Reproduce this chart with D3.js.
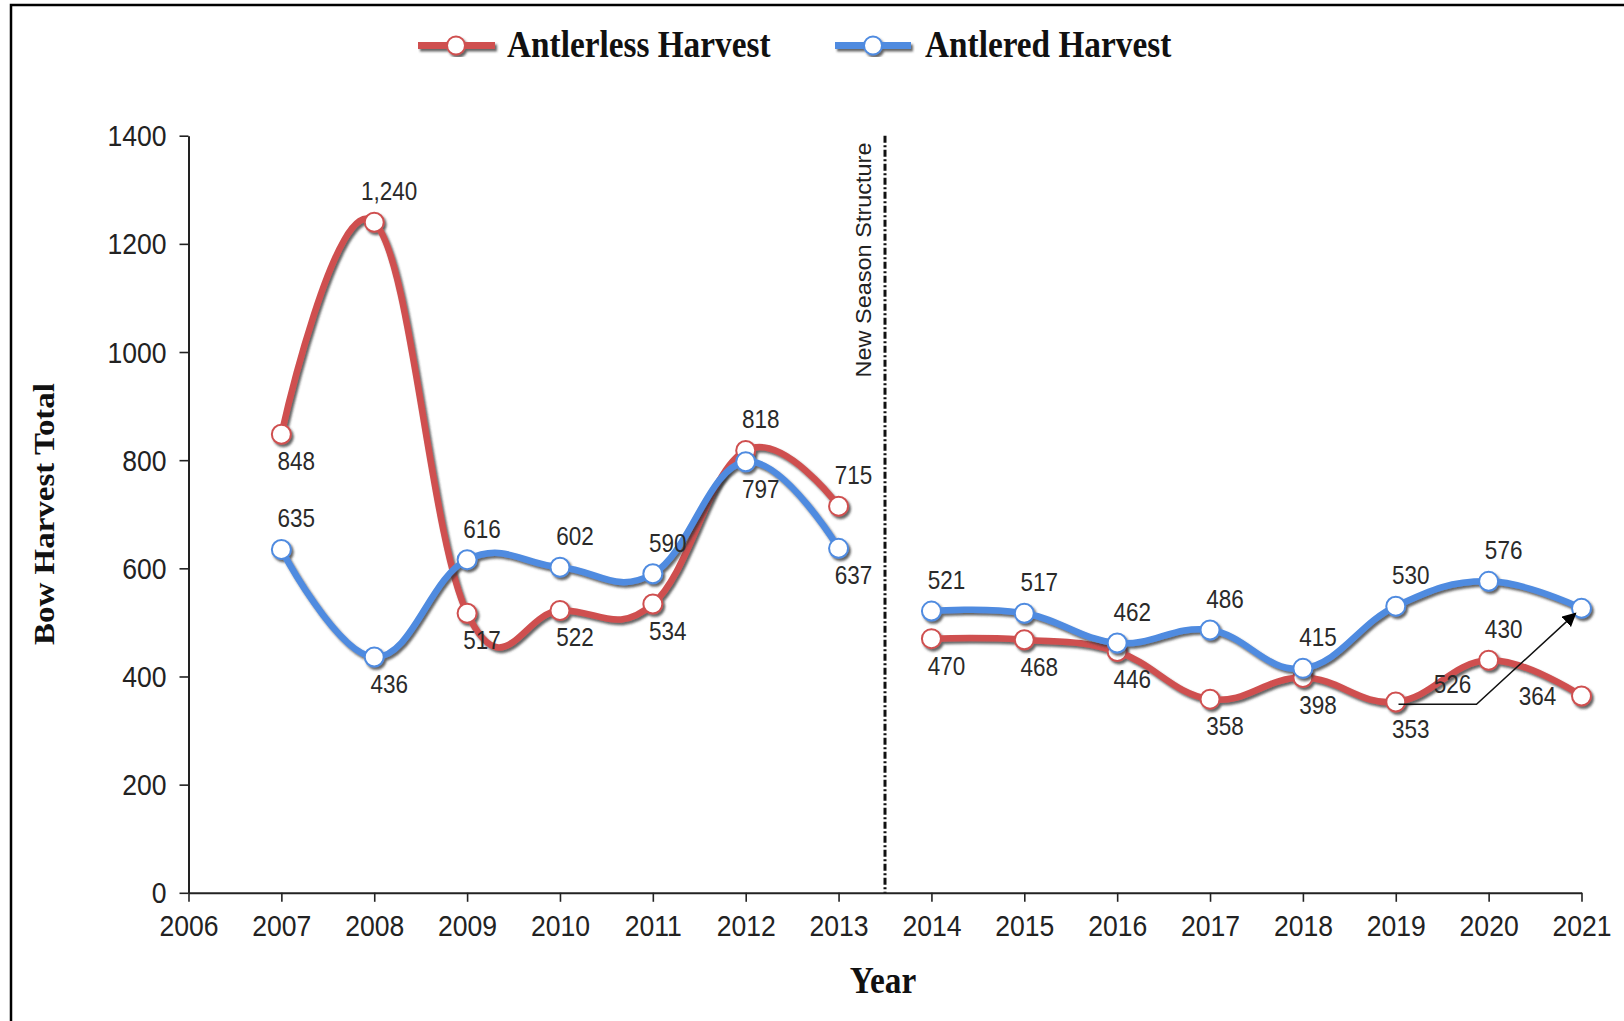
<!DOCTYPE html>
<html>
<head>
<meta charset="utf-8">
<script src="https://cdn.jsdelivr.net/npm/d3@7"></script>
<style>
  html, body { margin: 0; padding: 0; background: #fff; }
  svg { display: block; }
</style>
</head>
<body>
<svg id="chart" width="1624" height="1021"></svg>
<script>
// ---------- data ----------
const years = [2007, 2008, 2009, 2010, 2011, 2012, 2013, 2014, 2015, 2016, 2017, 2018, 2019, 2020, 2021];
const antlerless = [848, 1240, 517, 522, 534, 818, 715, 470, 468, 446, 358, 398, 353, 430, 364];
const antlered   = [635, 436, 616, 602, 590, 797, 637, 521, 517, 462, 486, 415, 530, 576, 526];
const antlerlessLabelPos = ["below","above","below","below","below","above","above","below","below","below","below","below","below","above","left"];
const antleredLabelPos   = ["above","below","above","above","above","below","below","above","above","above","above","above","above","above","callout"];
const xTicks = [2006, 2007, 2008, 2009, 2010, 2011, 2012, 2013, 2014, 2015, 2016, 2017, 2018, 2019, 2020, 2021];
const yTicks = [0, 200, 400, 600, 800, 1000, 1200, 1400];
const seasonBreak = 2013.5;
const seriesNames = ["Antlerless Harvest", "Antlered Harvest"];
const breakLabel = "New Season Structure";
const xTitle = "Year";
const yTitle = "Bow Harvest Total";

// ---------- setup ----------
const SX = 0.9; // horizontal squeeze of the original typography
const svg = d3.select("#chart");
const colors = { red: "#cf5050", blue: "#4f8be0" };

const x = d3.scaleLinear().domain([2006, 2021]).range([188.5, 1581.5]);
const y = d3.scaleLinear().domain([0, 1400]).range([892.8, 135.7]);

const defs = svg.append("defs");
const f = defs.append("filter").attr("id", "shadow").attr("x", "-10%").attr("y", "-10%").attr("width", "120%").attr("height", "120%");
f.append("feDropShadow").attr("dx", 2).attr("dy", 2.5).attr("stdDeviation", 1.2)
  .attr("flood-color", "#333").attr("flood-opacity", 0.75);
defs.append("marker").attr("id", "arrow").attr("viewBox", "0 0 10 10")
  .attr("refX", 9).attr("refY", 5).attr("markerWidth", 14).attr("markerHeight", 14)
  .attr("markerUnits", "userSpaceOnUse").attr("orient", "auto")
  .append("path").attr("d", "M0,0 L10,5 L0,10 z").attr("fill", "#000");

function label(g, px, py, str, o) {
  o = o || {};
  const t = g.append("text")
    .attr("transform", `translate(${px},${py}) scale(${SX},1)` + (o.rotate ? ` rotate(${o.rotate})` : ""))
    .attr("text-anchor", o.anchor || "middle")
    .attr("dominant-baseline", o.baseline || "auto")
    .attr("font-family", o.family || "'Liberation Sans', Arial, sans-serif")
    .attr("font-size", o.size || 25)
    .attr("font-weight", o.weight || "normal")
    .attr("fill", o.fill || "#2a2a2a")
    .text(str);
  return t;
}

// frame (top + left edges)
svg.append("path").attr("d", "M11,1021 L11,5 L1624,5").attr("fill", "none")
  .attr("stroke", "#000").attr("stroke-width", 2.5);

// ---------- axes ----------
const xAxis = svg.append("g").attr("transform", `translate(0,${y(0)})`)
  .call(d3.axisBottom(x).tickValues(xTicks).tickFormat(d3.format("d")).tickSize(9).tickSizeOuter(0));
const yAxis = svg.append("g").attr("transform", `translate(${x(2006)},0)`)
  .call(d3.axisLeft(y).tickValues(yTicks).tickFormat(d3.format("d")).tickSize(9).tickSizeOuter(0));
[xAxis, yAxis].forEach(a => {
  a.select(".domain").attr("stroke", "#222").attr("stroke-width", 2);
  a.selectAll(".tick line").attr("stroke", "#222").attr("stroke-width", 1.6);
  a.selectAll(".tick text").attr("font-family", "'Liberation Sans', Arial, sans-serif")
    .attr("font-size", 29.5).attr("fill", "#222");
});
xAxis.selectAll(".tick text").attr("y", 0).attr("dy", 0)
  .attr("transform", `translate(0,43) scale(${SX},1)`);
yAxis.selectAll(".tick text").attr("x", 0).attr("dy", 0).attr("dominant-baseline", "central")
  .attr("transform", `translate(-22,0) scale(${SX},1)`);

// ---------- season break ----------
svg.append("line").attr("x1", x(seasonBreak)).attr("x2", x(seasonBreak))
  .attr("y1", y(1400)).attr("y2", y(0))
  .attr("stroke", "#111").attr("stroke-width", 3).attr("stroke-dasharray", "7,2.5,2,2.5");
label(svg, x(seasonBreak) - 21, 260, breakLabel, { rotate: -90, baseline: "central", size: 23.5, fill: "#222" });

// ---------- series ----------
const curve = d3.curveCardinal.tension(-0.2);
const line = d3.line().x(d => x(d.year)).y(d => y(d.v)).curve(curve);

function drawSeries(values, color) {
  const pts = years.map((yr, i) => ({ year: yr, v: values[i], i }));
  const segs = [pts.filter(p => p.year < seasonBreak), pts.filter(p => p.year > seasonBreak)];
  const g = svg.append("g").attr("filter", "url(#shadow)");
  segs.forEach(s => g.append("path").attr("d", line(s)).attr("fill", "none")
    .attr("stroke", color).attr("stroke-width", 6.5).attr("stroke-linejoin", "round").attr("stroke-linecap", "round"));
  g.selectAll("circle.m").data(pts).enter().append("circle").attr("class", "m")
    .attr("cx", d => x(d.year)).attr("cy", d => y(d.v)).attr("r", 9.5)
    .attr("fill", "#fff").attr("stroke", color).attr("stroke-width", 2);
  return pts;
}
const redPts = drawSeries(antlerless, colors.red);
const bluePts = drawSeries(antlered, colors.blue);

// ---------- value labels ----------
const fmt = d3.format(",");
const labelsG = svg.append("g");
function drawLabels(pts, pos) {
  pts.forEach((p, i) => {
    const px = x(p.year), py = y(p.v);
    const kind = pos[i];
    if (kind === "above") label(labelsG, px + 15, py - 31, fmt(p.v), { baseline: "central" });
    else if (kind === "below") label(labelsG, px + 15, py + 27, fmt(p.v), { baseline: "central" });
    else if (kind === "left") label(labelsG, px - 44, py, fmt(p.v), { baseline: "central" });
    else if (kind === "callout") {
      label(labelsG, px - 129, py + 76, fmt(p.v), { baseline: "central" });
      labelsG.append("path")
        .attr("d", `M${px - 183},${py + 96} L${px - 105},${py + 96} L${px - 6},${py + 5}`)
        .attr("fill", "none").attr("stroke", "#111").attr("stroke-width", 1.5)
        .attr("marker-end", "url(#arrow)");
    }
  });
}
drawLabels(redPts, antlerlessLabelPos);
drawLabels(bluePts, antleredLabelPos);

// ---------- legend ----------
const legend = svg.append("g");
[[418, 495, 456, 507, colors.red, seriesNames[0]], [835, 911, 873, 925, colors.blue, seriesNames[1]]]
  .forEach(([a, b, c, tx, col, name]) => {
    const lg = legend.append("g").attr("filter", "url(#shadow)");
    lg.append("line").attr("x1", a).attr("x2", b).attr("y1", 45.5).attr("y2", 45.5)
      .attr("stroke", col).attr("stroke-width", 7);
    lg.append("circle").attr("cx", c).attr("cy", 45.5).attr("r", 9)
      .attr("fill", "#fff").attr("stroke", col).attr("stroke-width", 2);
    label(legend, tx, 57, name, { anchor: "start", size: 37, weight: "bold",
      family: "'Liberation Serif', 'Times New Roman', serif", fill: "#111" });
  });

// ---------- axis titles ----------
label(svg, 883, 993, xTitle, { size: 37, weight: "bold", family: "'Liberation Serif', 'Times New Roman', serif", fill: "#111" });
label(svg, 44.5, 514, yTitle, { rotate: -90, baseline: "central", size: 33, weight: "bold",
  family: "'Liberation Serif', 'Times New Roman', serif", fill: "#111" });
</script>
</body>
</html>
